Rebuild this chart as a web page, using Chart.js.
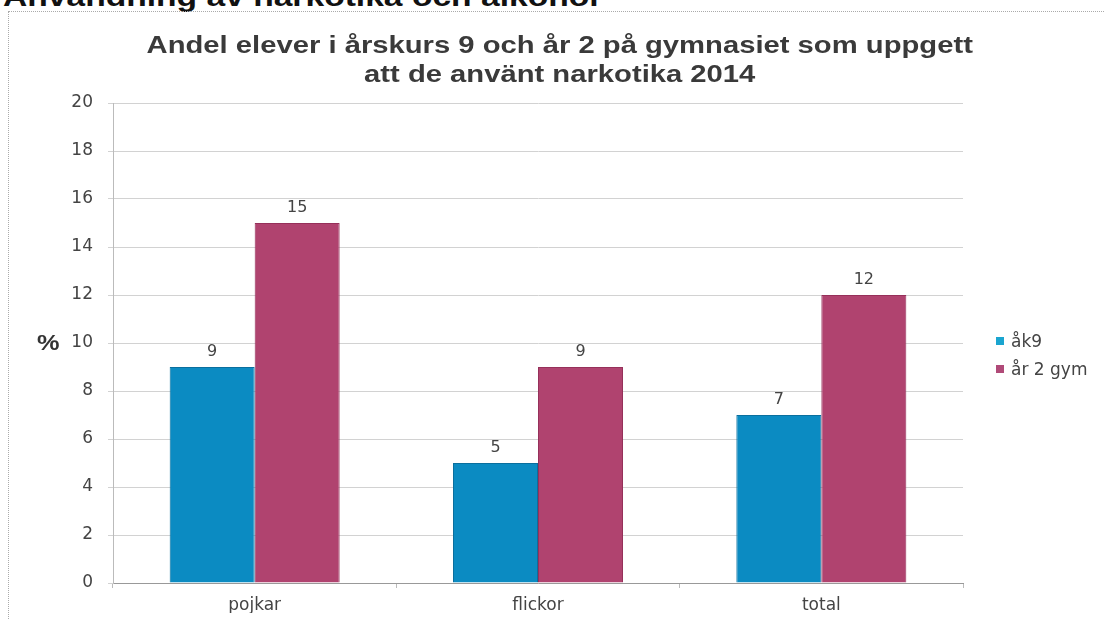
<!DOCTYPE html>
<html>
<head>
<meta charset="utf-8">
<script src="https://cdn.jsdelivr.net/npm/chart.js@4"></script>
<style>
  body { margin: 0; background: #fff; width: 1104px; height: 620px; overflow: hidden; position: relative; font-family: "Liberation Sans", Arial, sans-serif; }
  #heading { position: absolute; left: 3px; top: -19px; font-size: 28px; font-weight: bold; color: #111; white-space: nowrap; transform: scaleX(1.2); transform-origin: 0 0; }
  #frame { position: absolute; left: 8px; top: 11px; width: 1110px; height: 620px; border: 1px dotted #aaa; box-sizing: border-box; }
  #title { position: absolute; left: 0; width: 1120px; top: 31px; text-align: center; font-size: 23px; line-height: 29px; font-weight: bold; color: #3a3a3a; transform: scaleX(1.27); transform-origin: 561px 0; }
  #pct { position: absolute; left: 37px; top: 330px; font-size: 22px; font-weight: bold; color: #333; transform: scaleX(1.15); transform-origin: 0 0; }
  #legend { position: absolute; left: 996px; top: 330px; font-size: 17px; color: #444; font-family: "DejaVu Sans", sans-serif; }
  #legend div { height: 28px; line-height: 22px; white-space: nowrap; }
  #legend span { display: inline-block; width: 8px; height: 8px; margin-right: 7px; vertical-align: 2px; }
  canvas { position: absolute; left: 0; top: 0; }
</style>
</head>
<body>
<div id="heading">Användning av narkotika och alkohol</div>
<div id="frame"></div>
<canvas id="c" width="1104" height="620"></canvas>
<div id="title">Andel elever i årskurs 9 och år 2 på gymnasiet som uppgett<br>att de använt narkotika 2014</div>
<div id="pct">%</div>
<div id="legend"></div>
<script>
const categories = ['pojkar', 'flickor', 'total'];
const seriesNames = ['åk9', 'år 2 gym'];
const ak9 = [9, 5, 7];
const ar2gym = [15, 9, 12];
const yTicks = [0, 2, 4, 6, 8, 10, 12, 14, 16, 18, 20];

const colors = ['#0b8bc2', '#b0436f'];
const legendColors = ['#1aa5d0', '#b04a78'];
const tickFont = { family: '"DejaVu Sans", sans-serif', size: 17 };

// legend as plain html
let legendEl = document.getElementById('legend');
seriesNames.forEach(function (name, i) {
  legendEl.innerHTML += '<div><span style="background:' + legendColors[i] + '"></span>' + name + '</div>';
});

// value labels above bars
const valueLabels = {
  id: 'valueLabels',
  afterDatasetsDraw(chart) {
    let ctx = chart.ctx;
    ctx.save();
    ctx.font = '16px "DejaVu Sans", sans-serif';
    ctx.fillStyle = '#444';
    ctx.textAlign = 'center';
    ctx.textBaseline = 'bottom';
    chart.data.datasets.forEach(function (ds, i) {
      chart.getDatasetMeta(i).data.forEach(function (bar, j) {
        ctx.fillText(ds.data[j], bar.x, bar.y - 7);
      });
    });
    ctx.restore();
  }
};

new Chart(document.getElementById('c'), {
  type: 'bar',
  data: {
    labels: categories,
    datasets: [
      { label: seriesNames[0], data: ak9, backgroundColor: colors[0], borderColor: '#0a6f9e', borderWidth: 1 },
      { label: seriesNames[1], data: ar2gym, backgroundColor: colors[1], borderColor: '#96305a', borderWidth: 1 },
    ],
  },
  options: {
    responsive: false,
    animation: false,
    categoryPercentage: 0.6,
    barPercentage: 1,
    layout: { padding: { left: 0, top: 103, right: 141, bottom: 7 } },
    plugins: {
      legend: { display: false },
      tooltip: { enabled: false },
    },
    scales: {
      x: {
        afterFit(scale) { scale.height = 30; },
        border: { color: '#999', width: 1 },
        grid: { drawOnChartArea: false, drawTicks: true, tickLength: 5, color: '#bbb' },
        ticks: { padding: 7, color: '#444', font: tickFont },
      },
      y: {
        min: 0,
        max: 20,
        afterFit(scale) { scale.width = 113; },
        afterBuildTicks(scale) { scale.ticks = yTicks.map(v => ({ value: v })); },
        border: { color: '#bbb', width: 1 },
        grid: { color: '#d2d2d2', tickLength: 5, borderDash: [2, 1] },
        ticks: { padding: 15, color: '#444', font: tickFont },
      },
    },
  },
  plugins: [valueLabels],
});
</script>
</body>
</html>
